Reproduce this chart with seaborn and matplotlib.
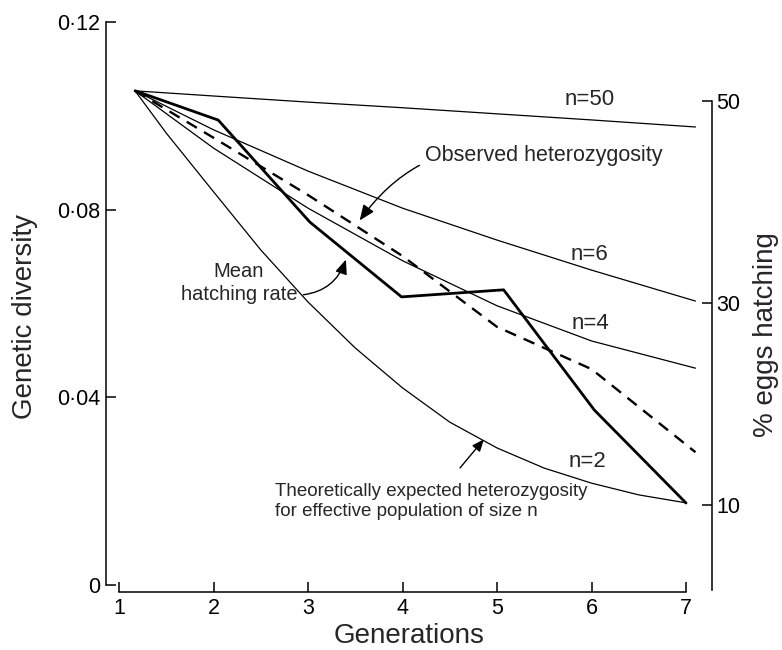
import matplotlib
matplotlib.use('Agg')
import matplotlib.pyplot as plt
import seaborn as sns

# generations (x) for each series
gen_theory = [1.17, 2, 3, 4, 5, 6, 7.1]
gen_n2 = [1.17, 1.5, 2, 2.5, 3, 3.5, 4, 4.5, 5, 5.5, 6, 6.5, 7.0]
gen_obs = [1.17, 2, 3, 4, 5, 6, 7.1]
gen_hatch = [1.17, 2.05, 3.02, 3.99, 5.07, 6.03, 7.0]

# theoretically expected heterozygosity (left axis)
h_n50 = [0.1053, 0.1042, 0.1029, 0.1017, 0.1004, 0.0991, 0.0976]
h_n6 = [0.1053, 0.0970, 0.0882, 0.0803, 0.0735, 0.0671, 0.0605]
h_n4 = [0.1053, 0.0931, 0.0803, 0.0691, 0.0595, 0.0520, 0.0462]
h_n2 = [0.1053, 0.0963, 0.0838, 0.0714, 0.0603, 0.0505, 0.0420,
        0.0347, 0.0292, 0.0249, 0.0217, 0.0192, 0.0175]

# observed heterozygosity (left axis, dashed)
h_obs = [0.1053, 0.0953, 0.0831, 0.0701, 0.0550, 0.0460, 0.0283]

# mean hatching rate, % eggs hatching (right axis)
hatch = [51.0, 48.1, 38.0, 30.6, 31.3, 19.4, 10.2]

left_ticks = [0, 0.04, 0.08, 0.12]
left_labels = ['0', '0·04', '0·08', '0·12']
right_ticks = [10, 30, 50]
gen_ticks = [1, 2, 3, 4, 5, 6, 7]

sns.set_theme(style='ticks')
plt.rcParams['font.family'] = ['Liberation Sans', 'DejaVu Sans']

fig = plt.figure(figsize=(7.82, 6.5), dpi=100)
ax = fig.add_axes([0.1355, 0.0892, 0.775, 0.8815])
ax2 = ax.twinx()

thin = dict(color='black', linewidth=0.9, estimator=None, sort=False, legend=False)
for ys, xs in [(h_n50, gen_theory), (h_n6, gen_theory), (h_n4, gen_theory), (h_n2, gen_n2)]:
    sns.lineplot(x=xs, y=ys, ax=ax, **thin)
sns.lineplot(x=gen_obs, y=h_obs, ax=ax, color='black', linewidth=1.7,
             linestyle=(0, (5, 3.5)), estimator=None, sort=False, legend=False)
sns.lineplot(x=gen_hatch, y=hatch, ax=ax2, color='black', linewidth=2.0,
             estimator=None, sort=False, legend=False)

ax.set_xlim(0.862, 7.275)
ax.set_ylim(-0.0015, 0.1206)
ax2.set_ylim(1.39, 58.1)

ax.set_xticks(gen_ticks)
ax.set_yticks(left_ticks)
ax.set_yticklabels(left_labels)
ax2.set_yticks(right_ticks)

for s in ['top', 'right']:
    ax.spines[s].set_visible(False)
for s in ['top', 'left', 'bottom']:
    ax2.spines[s].set_visible(False)
ax.spines['left'].set_bounds(0, 0.12)
ax.spines['bottom'].set_bounds(1, 7)
ax2.spines['right'].set_bounds(1.6, 50)
for sp in [ax.spines['left'], ax.spines['bottom'], ax2.spines['right']]:
    sp.set_linewidth(1.1)
    sp.set_color('black')

ax.tick_params(axis='both', direction='in', length=7, width=1.1, labelsize=15.5,
               colors='black', pad=4)
ax2.tick_params(axis='y', direction='in', length=7, width=1.1, labelsize=15.5,
                colors='black', pad=3)

ax.set_xlabel('Generations', fontsize=20, labelpad=3)
ax.set_ylabel('Genetic diversity', fontsize=20)
ax.yaxis.set_label_coords(-0.112, 0.48)
ax2.set_ylabel('% eggs hatching', fontsize=20)
ax2.yaxis.set_label_coords(1.068, 0.45)

ax.text(5.98, 0.1034, 'n=50', ha='center', va='center', fontsize=16)
ax.text(5.98, 0.0705, 'n=6', ha='center', va='center', fontsize=16)
ax.text(5.99, 0.0558, 'n=4', ha='center', va='center', fontsize=16)
ax.text(5.96, 0.0264, 'n=2', ha='center', va='center', fontsize=16)

arrow = dict(arrowstyle='-|>,head_length=0.6,head_width=0.25', color='black', lw=1.0)
ax.annotate('Observed heterozygosity', xy=(3.53, 0.0772), xytext=(4.24, 0.0916),
            ha='left', va='center', fontsize=15.5,
            arrowprops=dict(connectionstyle='arc3,rad=0.35', **arrow))
ax.annotate('Mean\nhatching rate', xy=(3.41, 0.0699), xytext=(2.27, 0.0644),
            ha='center', va='center', linespacing=1.25, fontsize=14.5,
            arrowprops=dict(connectionstyle='arc3,rad=0.35', relpos=(1.0, 0.2), **arrow))
ax.annotate('', xy=(4.88, 0.0315), xytext=(4.59, 0.0245), arrowprops=arrow)
ax.text(2.65, 0.0178, 'Theoretically expected heterozygosity\nfor effective population of size n',
        ha='left', va='center', linespacing=1.25, fontsize=13.5)

fig.savefig('out.png', dpi=100)
